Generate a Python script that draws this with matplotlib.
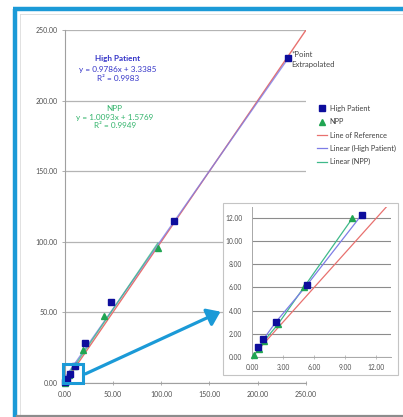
import matplotlib
matplotlib.use('Agg')
import matplotlib.pyplot as plt
from matplotlib.patches import Rectangle, FancyArrowPatch
from matplotlib.lines import Line2D
from matplotlib.ticker import FormatStrFormatter
import numpy as np

plt.rcParams['font.family'] = ['Lato', 'DejaVu Sans']

# 数据
hp_x = [0.6, 1.1, 2.3, 5.3, 10.6, 21.0, 48.0, 113.0, 231.0]
hp_y = [0.8, 1.5, 3.0, 6.2, 12.3, 28.5, 57.5, 115.0, 230.5]
npp_x = [0.2, 0.7, 1.2, 2.5, 5.0, 9.7, 18.8, 41.2, 96.5]
npp_y = [0.15, 0.65, 1.4, 2.8, 6.0, 12.0, 23.4, 47.5, 95.8]

hp_slope, hp_icpt, hp_r2 = 0.9786, 3.3385, 0.9983
npp_slope, npp_icpt, npp_r2 = 1.0093, 1.5769, 0.9949

main_ticks = [0, 50, 100, 150, 200, 250]
zoom_xticks = [0, 3, 6, 9, 12]
zoom_yticks = [0, 2, 4, 6, 8, 10, 12]
zoom_n = 6  # 放大图只画前6个点

C_HP = '#0d0d9c'
C_NPP = '#20a552'
C_REF = '#e8716f'
C_HPL = '#7d7de6'
C_NPPL = '#3fb98a'
C_FRAME = '#1b9ad7'
C_GRID = '#b4b4b4'

W, H = 403, 417


def fx(px):
    return px / W


def fy(py):
    return 1 - py / H


fig = plt.figure(figsize=(W / 100, H / 100), dpi=100)

# 外框
fig.add_artist(Line2D([fx(15), fx(15)], [fy(9), fy(417)], color=C_FRAME, lw=3.2,
                      transform=fig.transFigure, solid_capstyle='butt'))
fig.add_artist(Line2D([fx(13), fx(403)], [fy(9), fy(9)], color=C_FRAME, lw=3.2,
                      transform=fig.transFigure, solid_capstyle='butt'))
fig.add_artist(Line2D([fx(20), fx(20)], [fy(14), fy(417)], color='#dcdcdc', lw=0.6,
                      transform=fig.transFigure))
fig.add_artist(Line2D([fx(20), fx(403)], [fy(14), fy(14)], color='#dcdcdc', lw=0.6,
                      transform=fig.transFigure))
fig.add_artist(Line2D([fx(17), fx(403)], [fy(415.5), fy(415.5)], color='#8c8c8c', lw=1.6,
                      transform=fig.transFigure))

# 主图
ax = fig.add_axes([fx(64.5), fy(383), fx(306) - fx(64.5), fy(30) - fy(383)])
ax.set_xlim(0, 250)
ax.set_ylim(0, 250)
ax.set_xticks(main_ticks)
ax.set_yticks(main_ticks)
ax.xaxis.set_major_formatter(FormatStrFormatter('%.2f'))
ax.yaxis.set_major_formatter(FormatStrFormatter('%.2f'))
ax.grid(axis='y', color=C_GRID, lw=0.9)
ax.set_axisbelow(True)
for s in ['top', 'right']:
    ax.spines[s].set_visible(False)
for s in ['left', 'bottom']:
    ax.spines[s].set_color('#a0a0a0')
    ax.spines[s].set_linewidth(0.8)
ax.tick_params(axis='x', direction='inout', length=3, width=0.6, color='#a0a0a0',
               labelsize=5.0, labelcolor='#505050', pad=4)
ax.tick_params(axis='y', direction='out', length=2, width=0.6, color='#a0a0a0',
               labelsize=5.0, labelcolor='#505050', pad=3)

xr = np.array([0, 250])
ax.plot(xr, xr, color=C_REF, lw=1.0, zorder=2)
xh = np.array([min(hp_x), max(hp_x)])
ax.plot(xh, hp_slope * xh + hp_icpt, color=C_HPL, lw=1.0, alpha=0.8, zorder=3)
xn = np.array([min(npp_x), max(npp_x)])
ax.plot(xn, npp_slope * xn + npp_icpt, color=C_NPPL, lw=1.0, alpha=0.8, zorder=3)
ax.plot(npp_x, npp_y, ls='none', marker='^', ms=5, color=C_NPP, zorder=4, clip_on=False)
ax.plot(hp_x, hp_y, ls='none', marker='s', ms=4.5, color=C_HP, zorder=5, clip_on=False)

# 回归方程标注
ax.text(55, 232, 'High Patient', ha='center', va='top', fontsize=5.9,
        color='#3535c8', fontweight='bold')
ax.text(55, 224.5, 'y = %.4fx + %.4f\nR² = %.4f' % (hp_slope, hp_icpt, hp_r2),
        ha='center', va='top', fontsize=5.9, color='#3535c8', linespacing=1.3)
ax.text(52, 197, 'NPP\ny = %.4fx + %.4f\nR² = %.4f' % (npp_slope, npp_icpt, npp_r2),
        ha='center', va='top', fontsize=5.9, color='#33b46c', linespacing=1.3)
ax.text(235, 235, '*Point\nExtrapolated', ha='left', va='top', fontsize=5.6,
        color='#444444', linespacing=1.5)

# 原点处的高亮框和箭头
ax.add_patch(Rectangle((-1.5, 0), 20.5, 13.5, fill=False, ec=C_FRAME, lw=2.2,
                       clip_on=False, zorder=6))
fig.add_artist(FancyArrowPatch((fx(83), fy(375)), (fx(223), fy(310.5)),
                               transform=fig.transFigure,
                               arrowstyle='-|>,head_length=0.55,head_width=0.4',
                               mutation_scale=14, color=C_FRAME, lw=2.3, zorder=4))

# 图例
handles = [
    Line2D([], [], ls='none', marker='s', ms=4, color=C_HP),
    Line2D([], [], ls='none', marker='^', ms=4.5, color=C_NPP),
    Line2D([], [], color=C_REF, lw=0.9),
    Line2D([], [], color=C_HPL, lw=0.9),
    Line2D([], [], color=C_NPPL, lw=0.9),
]
labels = ['High Patient', 'NPP', 'Line of Reference', 'Linear (High Patient)', 'Linear (NPP)']
leg = fig.legend(handles, labels, loc='upper left', bbox_to_anchor=(fx(317), fy(105)),
                 frameon=False, fontsize=5.3, handlelength=1.4, handletextpad=0.3,
                 labelspacing=0.85, borderpad=0, borderaxespad=0, numpoints=1)
for t in leg.get_texts():
    t.set_color('#404040')

# 放大图
fig.add_artist(Rectangle((fx(223), fy(375)), fx(398) - fx(223), fy(203) - fy(375),
                         transform=fig.transFigure, fc='white', ec='#c4c4c4', lw=0.8,
                         zorder=2))
ax2 = fig.add_axes([fx(252), fy(356.7), fx(390.7) - fx(252), fy(206.7) - fy(356.7)])
ax2.set_zorder(3)
ax2.set_xlim(0, 13.4)
ax2.set_ylim(0, 13)
ax2.set_xticks(zoom_xticks)
ax2.set_yticks(zoom_yticks)
ax2.xaxis.set_major_formatter(FormatStrFormatter('%.2f'))
ax2.yaxis.set_major_formatter(FormatStrFormatter('%.2f'))
ax2.grid(axis='y', color='#8c8c8c', lw=0.8)
ax2.set_axisbelow(True)
ax2.patch.set_alpha(0)
for s in ['top', 'right']:
    ax2.spines[s].set_visible(False)
for s in ['left', 'bottom']:
    ax2.spines[s].set_color('#a8a8a8')
    ax2.spines[s].set_linewidth(0.7)
ax2.tick_params(axis='x', direction='inout', length=3, width=0.5, color='#a8a8a8',
                labelsize=4.8, labelcolor='#505050', pad=4)
ax2.tick_params(axis='y', length=0, labelsize=4.8, labelcolor='#505050', pad=7)

xz = np.array([0, 13.4])
ax2.plot(xz, xz, color=C_REF, lw=0.9, zorder=2)
ax2.plot(npp_x[:zoom_n], npp_y[:zoom_n], color=C_NPPL, lw=0.9, zorder=3)
ax2.plot(hp_x[:zoom_n - 1], hp_y[:zoom_n - 1], color=C_HPL, lw=0.9, zorder=3)
ax2.plot(npp_x[:zoom_n], npp_y[:zoom_n], ls='none', marker='^', ms=5, color=C_NPP,
         zorder=4, clip_on=False)
ax2.plot(hp_x[:zoom_n - 1], hp_y[:zoom_n - 1], ls='none', marker='s', ms=4.2, color=C_HP,
         zorder=5, clip_on=False)

fig.savefig('out.png', dpi=100, facecolor='white')
